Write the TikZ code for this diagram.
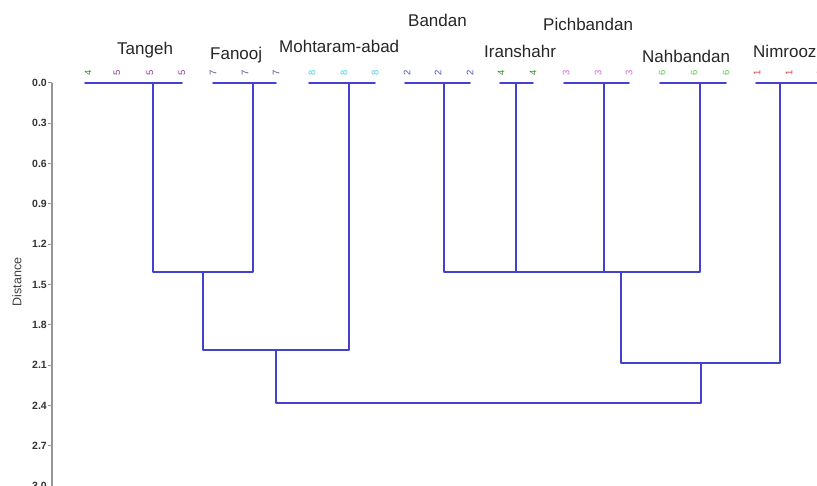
\documentclass[tikz,border=0pt]{standalone}
\usepackage{fontspec}
\setmainfont{Liberation Sans}
\begin{document}
\begin{tikzpicture}[x=1pt,y=-1pt,
  branch/.style={draw=treeblue,line width=1.8pt,line cap=round,line join=round},
  axisline/.style={draw=axisgray,line width=1.3pt},
  leaflab/.style={font=\fontsize{9.5}{10}\selectfont,rotate=90,inner sep=0pt},
  region/.style={font=\fontsize{17}{18}\selectfont,anchor=base west,inner sep=0pt,text=black!85},
  ticklab/.style={font=\fontsize{10.5}{11}\selectfont\bfseries,anchor=east,inner sep=0pt,text=black!80},
]
\definecolor{treeblue}{RGB}{66,66,206}
\definecolor{axisgray}{RGB}{150,150,150}
\definecolor{cgreen}{RGB}{50,150,50}
\definecolor{cpurple}{RGB}{140,60,150}
\definecolor{cslate}{RGB}{95,80,140}
\definecolor{ccyan}{RGB}{70,210,225}
\definecolor{cblue}{RGB}{70,80,170}
\definecolor{cpink}{RGB}{215,100,215}
\definecolor{clime}{RGB}{80,215,80}
\definecolor{cred}{RGB}{215,70,70}

\useasboundingbox (0,0) rectangle (817,486);
\clip (0,0) rectangle (817,486);
\fill[white] (0,0) rectangle (817,486);

% distance axis
\coordinate (axtop) at (52,83);
\coordinate (axbot) at (52,490);
\draw[axisline] (axtop) -- (axbot);
\foreach \d [count=\i from 0] in {0.0,0.3,0.6,0.9,1.2,1.5,1.8,2.1,2.4,2.7,3.0}{
  \pgfmathsetmacro{\yy}{83+\i*40.3}
  \draw[axisline,line width=1pt] (48,\yy) -- (52,\yy);
  \node[ticklab] (tick\i) at (47,\yy) {\d};
}
\node[font=\fontsize{12.5}{13}\selectfont,rotate=90,text=black!75] (axname) at (17,282) {Distance};

% leaves: position and group colour
\foreach \x/\lab/\col [count=\k] in {
  88/4/cgreen,117/5/cpurple,150/5/cpurple,182/5/cpurple,
  213/7/cslate,245/7/cslate,276/7/cslate,
  312/8/ccyan,344/8/ccyan,375/8/ccyan,
  407/2/cblue,438/2/cblue,470/2/cblue,
  501/4/cgreen,533/4/cgreen,
  566/3/cpink,598/3/cpink,629/3/cpink,
  662/6/clime,694/6/clime,726/6/clime,
  757/1/cred,789/1/cred,820/1/cred}{
  \node[leaflab,text=\col] (leaf\k) at (\x,73) {\lab};
  \coordinate (b\k) at (\x,83);
}

% region names
\node[region] (tangeh)    at (117,55) {Tangeh};
\node[region] (fanooj)    at (210,60) {Fanooj};
\node[region] (mohtaram)  at (279,53) {Mohtaram-abad};
\node[region] (bandan)    at (408,27) {Bandan};
\node[region] (iranshahr) at (484,58) {Iranshahr};
\node[region] (pichband)  at (543,31) {Pichbandan};
\node[region] (nahband)   at (642,63) {Nahbandan};
\node[region] (nimrooz)   at (753,58) {Nimrooz};

% clusters at distance 0
\coordinate (cT) at (153,83);  \coordinate (cF) at (253,83);
\coordinate (cM) at (349,83);  \coordinate (cB) at (444,83);
\coordinate (cI) at (516,83);  \coordinate (cP) at (604,83);
\coordinate (cN) at (700,83);  \coordinate (cZ) at (780,83);
\draw[branch] ([xshift=-3pt]b1) -- (b4);
\draw[branch] (b5) -- (b7);
\draw[branch] ([xshift=-3pt]b8) -- (b10);
\draw[branch] ([xshift=-2pt]b11) -- (b13);
\draw[branch] ([xshift=-1pt]b14) -- (b15);
\draw[branch] ([xshift=-2pt]b16) -- (b18);
\draw[branch] ([xshift=-2pt]b19) -- (b21);
\draw[branch] ([xshift=-1pt]b22) -- ([xshift=10pt]b24);

% higher merges
\coordinate (jTF) at (203,272);
\coordinate (jTFM) at (276,350);
\coordinate (jR) at (621,272);
\coordinate (jRZ) at (701,363);
\coordinate (root) at (488,403);

\draw[branch] (cT) |- (cF |- jTF) -- (cF);
\draw[branch] (jTF) |- (cM |- jTFM) -- (cM);
\draw[branch] (cB) |- (cN |- jR) -- (cN);
\draw[branch] (cI) -- (cI |- jR);
\draw[branch] (cP) -- (cP |- jR);
\draw[branch] (jR) |- (cZ |- jRZ) -- (cZ);
\draw[branch] (jTFM) |- (jRZ |- root) -- (jRZ);
\end{tikzpicture}
\end{document}
